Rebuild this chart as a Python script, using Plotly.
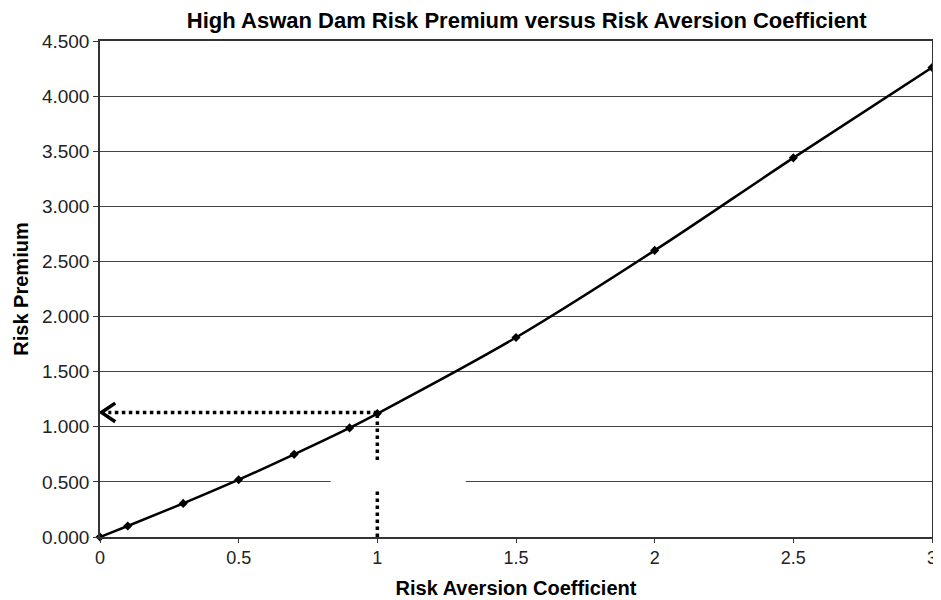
import plotly.graph_objects as go

# Data
risk_aversion = [0, 0.1, 0.3, 0.5, 0.7, 0.9, 1.0, 1.5, 2.0, 2.5, 3.0]
risk_premium = [0.0, 0.10, 0.305, 0.52, 0.75, 0.99, 1.12, 1.81, 2.60, 3.44, 4.26]

x_ticks = [0, 0.5, 1, 1.5, 2, 2.5, 3]
y_ticks = [0, 0.5, 1, 1.5, 2, 2.5, 3, 3.5, 4, 4.5]

# reading guide (coefficient 1 -> premium ~1.13)
guide_x = 1.0
guide_y = 1.13

FONT = "Liberation Sans, Arial, sans-serif"

fig = go.Figure()

# trend curve
fig.add_trace(go.Scatter(
    x=risk_aversion, y=risk_premium, mode="lines",
    line=dict(color="black", width=2.5, shape="spline", smoothing=1.0),
    hoverinfo="skip", showlegend=False, cliponaxis=False,
))
# data points
fig.add_trace(go.Scatter(
    x=risk_aversion, y=risk_premium, mode="markers",
    marker=dict(symbol="diamond", size=7, color="black"),
    showlegend=False, cliponaxis=False,
))

# dotted guide lines
fig.add_trace(go.Scatter(
    x=[guide_x, guide_x], y=[0, guide_y], mode="lines",
    line=dict(color="black", width=3.5, dash="dot"), showlegend=False, hoverinfo="skip",
))
fig.add_trace(go.Scatter(
    x=[guide_x, 0.03], y=[guide_y, guide_y], mode="lines",
    line=dict(color="black", width=3.5, dash="dot"), showlegend=False, hoverinfo="skip",
))
# arrow head (open chevron)
fig.add_trace(go.Scatter(
    x=[0.055, 0.005, 0.055], y=[guide_y + 0.085, guide_y, guide_y - 0.085], mode="lines",
    line=dict(color="black", width=3.5), showlegend=False, hoverinfo="skip",
))

# white patch (blank region of the original figure)
fig.add_shape(type="rect", xref="x", yref="y", x0=0.832, x1=1.319, y0=0.43, y1=0.69,
              fillcolor="white", line=dict(width=0), layer="above")

fig.update_layout(
    width=933, height=592,
    margin=dict(l=92, r=4, t=33, b=63),
    paper_bgcolor="white", plot_bgcolor="white",
    title=dict(text="<b>High Aswan Dam Risk Premium versus Risk Aversion Coefficient</b>",
               x=0.556, xanchor="center", y=0.979, yanchor="middle",
               font=dict(family=FONT, size=22, color="black")),
    font=dict(family=FONT, size=19, color="#222"),
    xaxis=dict(
        range=[0, 3], tickvals=x_ticks, ticktext=[f"{v:g}" for v in x_ticks],
        showgrid=False, zeroline=False,
        showline=True, linecolor="#333", linewidth=1.5, mirror=True,
        ticks="outside", ticklen=4, tickcolor="#333",
        tickfont=dict(size=18),
        title=dict(text="<b>Risk Aversion Coefficient</b>", standoff=14,
                   font=dict(family=FONT, size=20, color="black")),
    ),
    yaxis=dict(
        range=[0, 4.5], tickvals=y_ticks, ticktext=[f"{v:.3f}" for v in y_ticks],
        showgrid=True, gridcolor="#444", gridwidth=1, zeroline=False,
        showline=True, linecolor="#333", linewidth=1.5, mirror=True,
        ticks="outside", ticklen=5, tickcolor="#333",
        tickfont=dict(size=19),
        title=dict(text="<b>Risk Premium</b>", standoff=8,
                   font=dict(family=FONT, size=20, color="black")),
    ),
)

fig.write_html("out.html")
